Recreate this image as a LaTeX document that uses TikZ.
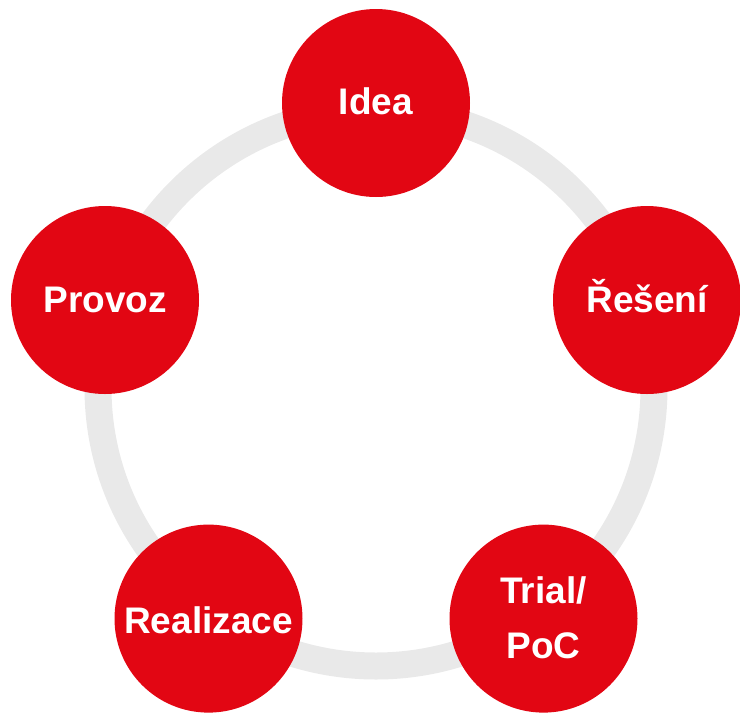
\documentclass[tikz,border=0pt]{standalone}
\usepackage{fontspec}
\setmainfont{Liberation Sans}
\definecolor{cred}{HTML}{E20613}
\definecolor{cring}{HTML}{E9E9E9}
\tikzset{
  stage/.style={circle, fill=cred, draw=none, minimum size=188pt, inner sep=0pt,
    text=white, font=\bfseries\fontsize{37}{55}\selectfont,
    text height=26.5pt, text depth=0pt},
  stagetext/.style={text=white, font=\bfseries\fontsize{37}{55}\selectfont,
    align=center, inner sep=0pt},
  ringline/.style={draw=cring, line width=27pt},
}
\begin{document}
\begin{tikzpicture}[x=1pt,y=-1pt]
\useasboundingbox (0,0) rectangle (740,713);
\coordinate (c) at (376,388);
\draw[ringline] (c) circle[radius=278];
\node[stage] (idea) at (376,103) {};
\node[stage] (reseni) at (647,300) {};
\node[stage] (trial) at (543.5,618.6) {};
\node[stage] (realizace) at (208.5,618.6) {};
\node[stage] (provoz) at (105,300) {};
\node[stage, fill=none] (ideat) at (376,101) {Idea};
\node[stage, fill=none] (resenit) at (647,299) {Řešení};
\node[stagetext] (trialt) at (543.5,617.5) {Trial/\\PoC};
\node[stage, fill=none] (realizacet) at (208.5,620) {Realizace};
\node[stage, fill=none] (provozt) at (105,299) {Provoz};
\end{tikzpicture}
\end{document}
